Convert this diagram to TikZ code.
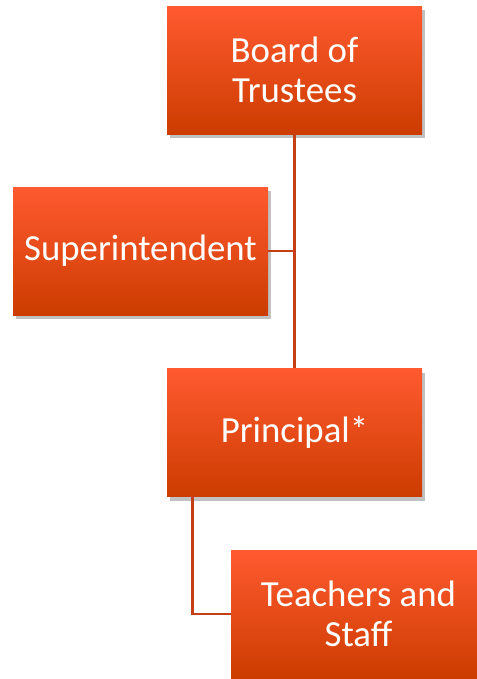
\documentclass[tikz,border=0pt]{standalone}
\usepackage{fontspec}
\setmainfont{Carlito}
\usepackage{tikz}
\usetikzlibrary{positioning}
\usetikzlibrary{shadows}
\definecolor{otop}{RGB}{255, 90, 48}
\definecolor{obottom}{RGB}{204, 60, 0}
\definecolor{oline}{RGB}{196, 64, 20}

\begin{document}
\begin{tikzpicture}[x=0.75pt, y=-0.75pt,
    orgbox/.style={rectangle, top color=otop, bottom color=obottom,
      minimum width=191.25pt, minimum height=96pt, align=center,
      text=white, font=\fontsize{27.6}{30}\selectfont, inner sep=0pt,
      drop shadow={shadow xshift=2pt, shadow yshift=-3pt, opacity=0.35, fill=black!70}},
    orgline/.style={oline, line width=2pt}]
    \useasboundingbox (0, 0) rectangle (477, 679);

    \node [orgbox] (board) at (294.5, 70) {Board of\\Trustees};
    \node [orgbox] (super) at (140.5, 251) {Superintendent};
    \node [orgbox] (principal) at (294.5, 432.5) {Principal*};
    \node [orgbox] (teachers) at (358.5, 614) {Teachers and\\Staff};

    \draw [orgline] (board.south) -- (principal.north);
    \draw [orgline] (super.east) -- (super.east -| board.south);
    \draw [orgline] ([xshift=19.5pt]principal.south west) |- (teachers.west);
  \end{tikzpicture}
\end{document}
